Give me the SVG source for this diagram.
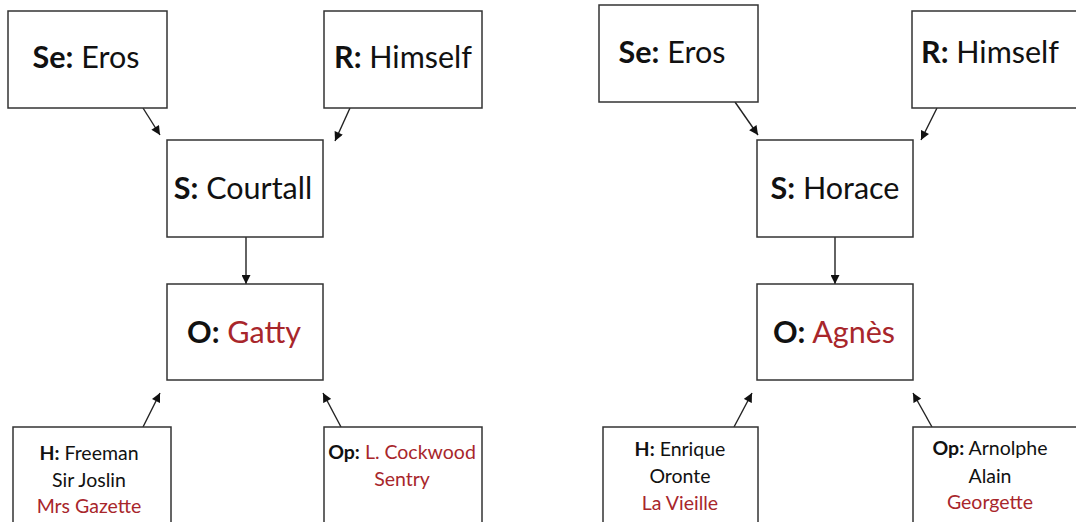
<svg xmlns="http://www.w3.org/2000/svg" width="1076" height="522" viewBox="0 0 1076 522">
<style>
.box{fill:#fff;stroke:#333;stroke-width:1.5}
.big{font-family:Lato,"Open Sans",sans-serif;font-size:30.5px;fill:#111;text-anchor:middle}
.sm{font-family:Lato,"Open Sans",sans-serif;font-size:19.5px;fill:#111;text-anchor:middle}
.b{font-weight:bold}
.red{fill:#A8262B}
.con{stroke:#222;stroke-width:1.4;fill:none;marker-end:url(#ah)}
</style>
<defs>
<marker id="ah" viewBox="0 0 10 10" refX="10" refY="5" markerWidth="10" markerHeight="9" markerUnits="userSpaceOnUse" orient="auto">
<path d="M0,0 L10,5 L0,10 z" fill="#111"/>
</marker>
</defs>
<rect width="1076" height="522" fill="#fff"/>
<g id="connectors">
<line class="con" x1="143" y1="108" x2="160" y2="135"/>
<line class="con" x1="350" y1="108" x2="335" y2="141"/>
<line class="con" x1="246" y1="237" x2="246" y2="284"/>
<line class="con" x1="143" y1="427" x2="160" y2="393"/>
<line class="con" x1="341" y1="427" x2="323" y2="393"/>
<line class="con" x1="735" y1="102" x2="758" y2="135"/>
<line class="con" x1="937" y1="108" x2="921" y2="140"/>
<line class="con" x1="835" y1="237" x2="835" y2="284"/>
<line class="con" x1="734" y1="427" x2="752" y2="393"/>
<line class="con" x1="932" y1="427" x2="913" y2="393"/>
</g>
<g id="L-Se"><rect class="box" x="8" y="11" width="159" height="97"/><text class="big" x="86" y="68"><tspan class="b">Se:</tspan> Eros</text></g>
<g id="L-R"><rect class="box" x="324" y="11" width="158" height="97"/><text class="big" x="403" y="68"><tspan class="b">R:</tspan> Himself</text></g>
<g id="L-S"><rect class="box" x="167" y="140" width="156" height="97"/><text class="big" x="243" y="199"><tspan class="b">S:</tspan> Courtall</text></g>
<g id="L-O"><rect class="box" x="167" y="284" width="156" height="96"/><text class="big" x="244" y="343"><tspan class="b">O:</tspan> <tspan class="red">Gatty</tspan></text></g>
<g id="L-H"><rect class="box" x="13" y="427" width="158" height="100"/>
<text class="sm" x="89" y="460"><tspan class="b">H:</tspan> Freeman</text>
<text class="sm" x="89" y="487">Sir Joslin</text>
<text class="sm red" x="89" y="513">Mrs Gazette</text></g>
<g id="L-Op"><rect class="box" x="324" y="427" width="158" height="100"/>
<text class="sm" x="402" y="459"><tspan class="b">Op:</tspan> <tspan class="red">L. Cockwood</tspan></text>
<text class="sm red" x="402" y="486">Sentry</text></g>
<g id="R-Se"><rect class="box" x="599" y="5" width="159" height="97"/><text class="big" x="672" y="63"><tspan class="b">Se:</tspan> Eros</text></g>
<g id="R-R"><rect class="box" x="912" y="11" width="170" height="97"/><text class="big" x="990" y="63"><tspan class="b">R:</tspan> Himself</text></g>
<g id="R-S"><rect class="box" x="757" y="140" width="156" height="97"/><text class="big" x="835" y="199"><tspan class="b">S:</tspan> Horace</text></g>
<g id="R-O"><rect class="box" x="757" y="284" width="156" height="96"/><text class="big" x="834" y="343"><tspan class="b">O:</tspan> <tspan class="red">Agnès</tspan></text></g>
<g id="R-H"><rect class="box" x="603" y="427" width="155" height="100"/>
<text class="sm" x="680" y="456"><tspan class="b">H:</tspan> Enrique</text>
<text class="sm" x="680" y="483">Oronte</text>
<text class="sm red" x="680" y="510">La Vieille</text></g>
<g id="R-Op"><rect class="box" x="913" y="427" width="170" height="100"/>
<text class="sm" x="990" y="455"><tspan class="b">Op:</tspan> Arnolphe</text>
<text class="sm" x="990" y="483">Alain</text>
<text class="sm red" x="990" y="509">Georgette</text></g>
</svg>
